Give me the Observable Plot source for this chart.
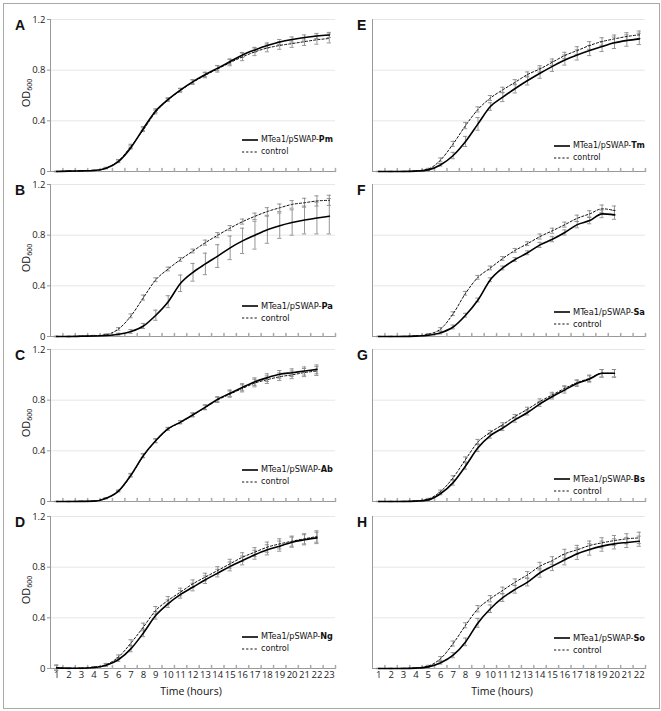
<!DOCTYPE html>
<html><head><meta charset="utf-8">
<script src="https://cdn.jsdelivr.net/npm/d3@7"></script>
<script src="https://cdn.jsdelivr.net/npm/@observablehq/plot@0.6"></script>
<style>
body{margin:0;background:#fff;font-family:"Open Sans",sans-serif;color:#111;}
#fig{position:relative;width:661px;height:711px;overflow:hidden;background:#fff;}
.abs{position:absolute;}
.border{left:3px;top:3px;width:657px;height:706px;box-sizing:border-box;border:1px solid #aaa;}
.letter{font-family:"Liberation Sans",Arial,sans-serif;font-weight:bold;font-size:14px;line-height:14px;}
.ylab{font-size:11px;line-height:12px;transform:translate(-50%,-50%) rotate(-90deg);white-space:nowrap;}
.ylab sub{font-size:7px;vertical-align:-2px;}
.xlab{font-size:10.5px;line-height:12px;transform:translateX(-50%);white-space:nowrap;}
.leg{font-family:"Liberation Sans Narrow","DejaVu Sans Condensed",Lato,sans-serif;font-size:10px;line-height:11px;height:11px;white-space:nowrap;display:flex;align-items:center;}
.leg svg{margin-right:3px;flex:none;}
</style></head><body><div id="fig"><div class="abs border"></div></div>
<script>
// ---- data (OD600) ----
const hoursLeft = [1,2,3,4,5,6,7,8,9,10,11,12,13,14,15,16,17,18,19,20,21,22,23];
const hoursRight = [1,2,3,4,5,6,7,8,9,10,11,12,13,14,15,16,17,18,19,20,21,22];
const yTicks = [0, 0.4, 0.8, 1.2];
const strains = ["Pm","Pa","Ab","Ng","Tm","Sa","Bs","So"];
const letters = ["A","B","C","D","E","F","G","H"];

const aMut = [0,0.003,0.005,0.008,0.026,0.08,0.19,0.34,0.48,0.57,0.645,0.71,0.766,0.816,0.868,0.92,0.96,0.995,1.022,1.042,1.058,1.07,1.078];
const aCtl = [0,0.003,0.005,0.008,0.028,0.085,0.2,0.33,0.47,0.565,0.64,0.705,0.76,0.81,0.86,0.905,0.945,0.975,0.995,1.01,1.025,1.04,1.05];
const aMutErr = [0.002,0.002,0.002,0.003,0.005,0.01,0.012,0.015,0.015,0.012,0.012,0.015,0.018,0.02,0.02,0.02,0.02,0.02,0.02,0.02,0.02,0.02,0.02];
const aCtlErr = [0.002,0.002,0.002,0.003,0.005,0.01,0.015,0.015,0.015,0.012,0.015,0.018,0.02,0.025,0.025,0.03,0.03,0.03,0.03,0.03,0.03,0.035,0.035];

const bMut = [0,0,0.002,0.004,0.008,0.018,0.04,0.083,0.168,0.275,0.42,0.507,0.573,0.635,0.70,0.755,0.80,0.843,0.875,0.90,0.92,0.935,0.95];
const bCtl = [0,0,0.003,0.006,0.015,0.06,0.163,0.307,0.448,0.533,0.608,0.675,0.741,0.8,0.856,0.907,0.949,0.987,1.016,1.043,1.056,1.07,1.075];
const bMutErr = [0.002,0.002,0.002,0.003,0.005,0.008,0.015,0.02,0.04,0.047,0.065,0.07,0.085,0.09,0.093,0.1,0.11,0.107,0.1,0.1,0.11,0.125,0.14];
const bCtlErr = [0.002,0.002,0.002,0.003,0.005,0.01,0.015,0.02,0.015,0.015,0.015,0.015,0.02,0.02,0.02,0.02,0.025,0.03,0.03,0.03,0.035,0.04,0.04];

const cMut = [0,0,0.001,0.003,0.026,0.084,0.21,0.363,0.481,0.575,0.627,0.685,0.745,0.808,0.855,0.902,0.946,0.978,1.004,1.017,1.03,1.043];
const cCtl = [0,0,0.001,0.003,0.026,0.082,0.205,0.36,0.478,0.572,0.625,0.683,0.742,0.802,0.848,0.893,0.935,0.962,0.985,1.0,1.018,1.03];
const cMutErr = [0.001,0.001,0.001,0.002,0.004,0.006,0.012,0.015,0.015,0.01,0.012,0.015,0.018,0.02,0.025,0.028,0.03,0.03,0.03,0.03,0.032,0.035];
const cCtlErr = [0.001,0.001,0.001,0.002,0.004,0.006,0.012,0.015,0.015,0.01,0.012,0.015,0.018,0.02,0.025,0.028,0.03,0.03,0.03,0.03,0.032,0.035];

const dMut = [0.005,0.002,0.002,0.008,0.026,0.071,0.157,0.281,0.42,0.512,0.585,0.643,0.701,0.753,0.806,0.853,0.898,0.937,0.966,0.997,1.016,1.031];
const dCtl = [0.008,0.002,0.003,0.01,0.03,0.092,0.202,0.328,0.459,0.538,0.604,0.669,0.722,0.774,0.827,0.879,0.919,0.958,0.984,1.005,1.024,1.042];
const dMutErr = [0.02,0.003,0.003,0.005,0.01,0.015,0.025,0.03,0.03,0.03,0.03,0.03,0.03,0.03,0.035,0.035,0.035,0.04,0.04,0.04,0.04,0.045];
const dCtlErr = [0.02,0.003,0.003,0.005,0.01,0.015,0.025,0.03,0.03,0.03,0.03,0.03,0.03,0.03,0.035,0.035,0.035,0.04,0.04,0.04,0.04,0.045];

const eMut = [0,0,0,0.003,0.013,0.053,0.126,0.237,0.376,0.513,0.587,0.655,0.718,0.776,0.83,0.88,0.92,0.955,0.987,1.016,1.034,1.047];
const eCtl = [0,0,0.001,0.005,0.02,0.092,0.218,0.363,0.49,0.58,0.645,0.705,0.766,0.81,0.863,0.916,0.955,0.995,1.026,1.047,1.066,1.079];
const eMutErr = [0.001,0.001,0.001,0.002,0.005,0.01,0.025,0.04,0.05,0.03,0.035,0.035,0.035,0.04,0.04,0.04,0.04,0.04,0.04,0.045,0.045,0.045];
const eCtlErr = [0.001,0.001,0.001,0.002,0.005,0.015,0.02,0.025,0.02,0.02,0.02,0.02,0.02,0.025,0.025,0.025,0.03,0.03,0.03,0.03,0.03,0.03];

const fMut = [0,0,0,0.003,0.01,0.03,0.075,0.168,0.288,0.448,0.541,0.608,0.661,0.723,0.768,0.821,0.883,0.915,0.968,0.96];
const fCtl = [0,0,0.001,0.005,0.018,0.06,0.18,0.341,0.467,0.541,0.616,0.68,0.733,0.789,0.835,0.883,0.933,0.968,1.008,0.995];
const fMutErr = [0.001,0.001,0.001,0.002,0.005,0.01,0.015,0.015,0.015,0.015,0.015,0.015,0.015,0.02,0.02,0.02,0.025,0.025,0.03,0.035];
const fCtlErr = [0.001,0.001,0.001,0.002,0.005,0.01,0.015,0.015,0.015,0.015,0.015,0.015,0.015,0.02,0.02,0.02,0.025,0.025,0.03,0.035];

const gMut = [0,0,0,0.003,0.013,0.063,0.149,0.28,0.424,0.52,0.58,0.646,0.703,0.771,0.829,0.881,0.933,0.967,1.012,1.012];
const gCtl = [0,0,0.001,0.005,0.02,0.08,0.188,0.332,0.47,0.546,0.607,0.672,0.729,0.79,0.842,0.894,0.939,0.973,1.012,1.012];
const gMutErr = [0.001,0.001,0.001,0.002,0.005,0.01,0.02,0.025,0.03,0.02,0.02,0.02,0.02,0.02,0.02,0.025,0.025,0.025,0.03,0.03];
const gCtlErr = [0.001,0.001,0.001,0.002,0.005,0.01,0.015,0.02,0.02,0.015,0.015,0.015,0.015,0.02,0.02,0.02,0.02,0.025,0.03,0.03];

const hMut = [0,0,0,0.003,0.013,0.045,0.105,0.21,0.36,0.472,0.559,0.625,0.682,0.756,0.808,0.858,0.906,0.94,0.966,0.984,0.995,1.005];
const hCtl = [0,0,0.001,0.005,0.02,0.079,0.197,0.341,0.472,0.551,0.617,0.682,0.74,0.808,0.853,0.906,0.937,0.971,0.992,1.01,1.024,1.031];
const hMutErr = [0.001,0.001,0.001,0.002,0.005,0.01,0.02,0.03,0.035,0.03,0.03,0.03,0.03,0.035,0.035,0.04,0.045,0.045,0.04,0.04,0.04,0.04];
const hCtlErr = [0.001,0.001,0.001,0.002,0.005,0.015,0.02,0.02,0.025,0.025,0.025,0.025,0.025,0.03,0.03,0.035,0.035,0.035,0.04,0.04,0.04,0.045];

// ---- layout ----
const panels = [
  {mut:aMut, mutErr:aMutErr, ctl:aCtl, ctlErr:aCtlErr, col:0, row:0, legDy:121},
  {mut:bMut, mutErr:bMutErr, ctl:bCtl, ctlErr:bCtlErr, col:0, row:1, legDy:122},
  {mut:cMut, mutErr:cMutErr, ctl:cCtl, ctlErr:cCtlErr, col:0, row:2, legDy:121},
  {mut:dMut, mutErr:dMutErr, ctl:dCtl, ctlErr:dCtlErr, col:0, row:3, legDy:121},
  {mut:eMut, mutErr:eMutErr, ctl:eCtl, ctlErr:eCtlErr, col:1, row:0, legDy:127},
  {mut:fMut, mutErr:fMutErr, ctl:fCtl, ctlErr:fCtlErr, col:1, row:1, legDy:128},
  {mut:gMut, mutErr:gMutErr, ctl:gCtl, ctlErr:gCtlErr, col:1, row:2, legDy:130},
  {mut:hMut, mutErr:hMutErr, ctl:hCtl, ctlErr:hCtlErr, col:1, row:3, legDy:122}
];
const rowTop = [19, 184, 349, 516];
const frameH = 152;
const legTextWidth = 72;
const fig = document.getElementById("fig");
const lineShape = {draw(ctx, l) { ctx.moveTo(0, 0); ctx.lineTo(0, -l); }};
const fmt = d => d === 0 ? "0" : d3.format(".1f")(d);

function add(html, cls, style) {
  const el = document.createElement("div");
  el.className = "abs " + cls;
  Object.assign(el.style, style);
  el.innerHTML = html;
  fig.appendChild(el);
  return el;
}

panels.forEach((p, k) => {
  const left = p.col === 0;
  const hours = left ? hoursLeft : hoursRight;
  const N = hours.length;
  const bottom = p.row === 3;
  const mt = 8, mb = bottom ? 16 : 4;
  const ml = left ? 50 : 42, mr = left ? 5 : 10, w = left ? 340 : 325;
  const L = left ? 0 : 330;
  const T = rowTop[p.row] - mt;
  const xDomain = [0.5, N + 0.5];
  const bounds = hours.map(h => h + 0.5);
  const mutData = p.mut.map((v, i) => ({hour: hours[i], v, e: p.mutErr[i]}));
  const ctlData = p.ctl.map((v, i) => ({hour: hours[i], v, e: p.ctlErr[i]}));
  const bars = ctlData.concat(mutData);

  const marks = [
    Plot.ruleY(yTicks.slice(1), {stroke: "#e6e6e6", strokeWidth: 1}),
    Plot.ruleX([xDomain[0]], {stroke: "#999"}),
    Plot.ruleY([yTicks[0]], {stroke: "#999"}),
    Plot.vector(bounds, {x: d => d, y: yTicks[0], length: 3, rotate: 0, anchor: "start", shape: lineShape, stroke: "#aaa"}),
    Plot.ruleX(bars, {x: "hour", y1: d => d.v - d.e, y2: d => d.v + d.e, stroke: "#8a8a8a", strokeWidth: 0.9}),
    Plot.ruleY(bars, {y: d => d.v + d.e, x1: d => d.hour - 0.17, x2: d => d.hour + 0.17, stroke: "#8a8a8a", strokeWidth: 0.9}),
    Plot.ruleY(bars, {y: d => d.v - d.e, x1: d => d.hour - 0.17, x2: d => d.hour + 0.17, stroke: "#8a8a8a", strokeWidth: 0.9}),
    Plot.line(ctlData, {x: "hour", y: "v", stroke: "#111", strokeWidth: 1, strokeDasharray: "2.2,2", curve: "monotone-x"}),
    Plot.line(mutData, {x: "hour", y: "v", stroke: "#000", strokeWidth: 1.6, curve: "monotone-x"})
  ];
  if (left) marks.push(Plot.axisY(yTicks, {tickSize: 3, tickPadding: 2, tickFormat: fmt, label: null, stroke: "#999", fill: "#222"}));
  if (bottom) marks.push(Plot.axisX(hours, {tickSize: 0, tickPadding: 3, label: null, fill: "#222"}));

  const svg = Plot.plot({
    width: w, height: mt + frameH + mb,
    marginLeft: ml, marginRight: mr, marginTop: mt, marginBottom: mb,
    x: {domain: xDomain, axis: bottom ? undefined : null},
    y: {domain: [0, 1.2], axis: left ? undefined : null},
    style: {background: "transparent", fontFamily: "'Open Sans', sans-serif", fontSize: "9.5px", overflow: "visible"},
    marks
  });
  const holder = add("", "", {left: L + "px", top: T + "px"});
  holder.appendChild(svg);

  // panel letter
  add(letters[k], "letter", {left: (left ? 15 : 357) + "px", top: (rowTop[p.row] - 1) + "px"});
  // y label
  if (left) add("OD<sub>600</sub>", "ylab", {left: "28px", top: (rowTop[p.row] + 74) + "px"});
  // x label
  if (bottom) add("Time (hours)", "xlab", {left: (left ? 191 : 502) + "px", top: "685px"});
  // legend
  const lx = left ? 242 : 554;
  const ly = rowTop[p.row] + p.legDy;
  const l1 = add(`<svg width="16" height="4"><line x1="0" x2="16" y1="2" y2="2" stroke="#000" stroke-width="1.6"/></svg><span>MTea1/pSWAP-<b>${strains[k]}</b></span>`, "leg", {left: lx + "px", top: (ly - 6) + "px"});
  const l2 = add(`<svg width="16" height="4"><line x1="0" x2="16" y1="2" y2="2" stroke="#111" stroke-width="1" stroke-dasharray="2.2,2"/></svg><span>control</span>`, "leg", {left: lx + "px", top: (ly + 6) + "px"});
  const tw = l1.querySelector("span").getBoundingClientRect().width;
  if (tw > 0) {
    const fs = Math.min(11, 10 * legTextWidth / tw);
    l1.style.fontSize = fs + "px";
    l2.style.fontSize = fs + "px";
  }
});
</script></body></html>
